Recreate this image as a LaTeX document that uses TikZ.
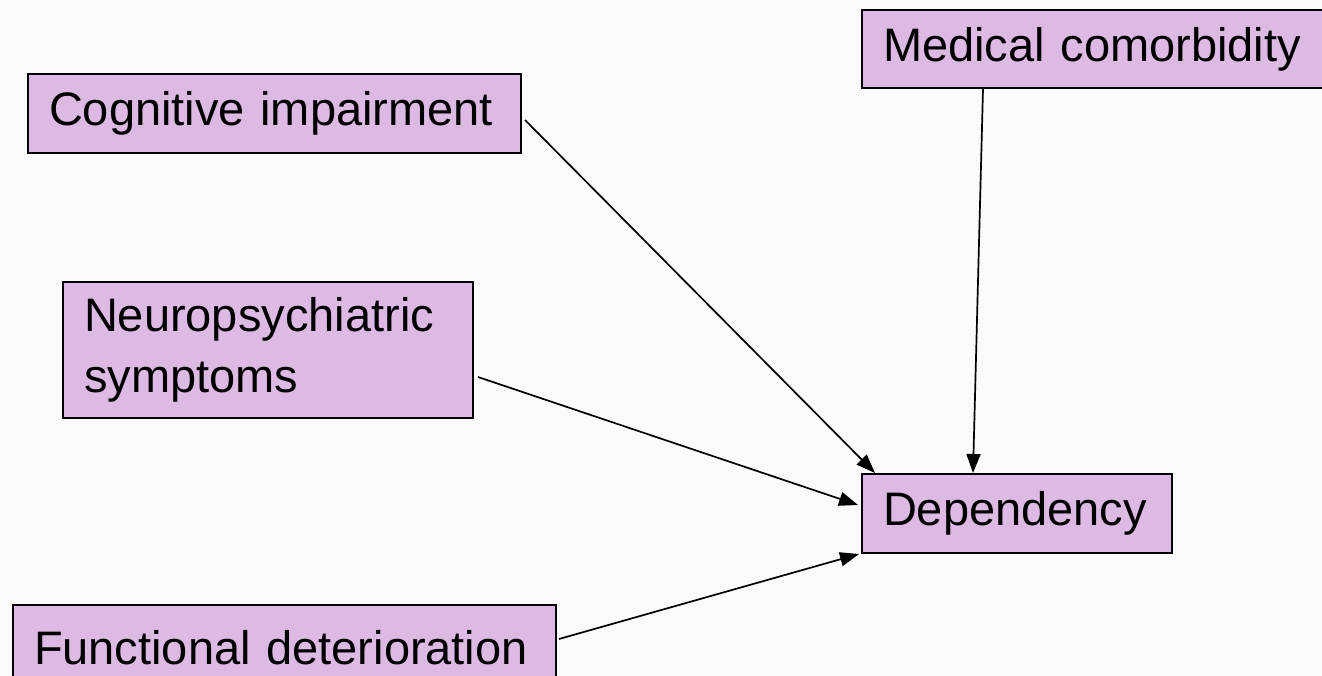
\documentclass[tikz,border=0pt]{standalone}
\usepackage{fontspec}
\setmainfont{Liberation Sans}
\usetikzlibrary{arrows.meta,calc}
\definecolor{boxfill}{RGB}{221,186,227}
\definecolor{paper}{RGB}{250,250,250}
\tikzset{
  factor/.style={draw=black, line width=2pt, fill=boxfill, anchor=north west,
    align=left, inner xsep=21pt, inner ysep=0pt,
    font=\fontsize{47}{61}\selectfont},
  link/.style={draw=black, line width=1.7pt,
    -{Triangle[length=19pt,width=14pt]}}
}
\begin{document}
\hyphenpenalty=10000
\begin{tikzpicture}[x=1pt,y=-1pt]
  \fill[paper] (0,0) rectangle (1322,676);
  \useasboundingbox (0,0) rectangle (1322,676);
  \clip (0,0) rectangle (1322,676);

  % factors
  \node[factor, text width=451pt, minimum height=79pt] (cog) at (27,73) {Cognitive impairment};
  \node[factor, text width=420pt, minimum height=78pt] (med) at (861,9) {Medical comorbidity};
  \node[factor, text width=368pt, minimum height=136pt] (neuro) at (62,281) {Neuropsychiatric\\symptoms};
  \node[factor, text width=268pt, minimum height=79pt] (dep) at (861,473) {Dependency};
  \node[factor, text width=501pt, minimum height=86pt] (func) at (12,604) {Functional deterioration};

  % influences on dependency
  \draw[link] ($(cog.north east)+(3,47)$) -- ($(dep.north west)+(14,0)$);
  \draw[link] ($(med.south west)+(122,0)$) -- ($(dep.north west)+(112,0)$);
  \draw[link] ($(neuro.north east)+(4,96)$) -- ($(dep.north west)+(-3,32)$);
  \draw[link] ($(func.north east)+(2,35)$) -- ($(dep.south west)+(-2,0)$);
\end{tikzpicture}
\end{document}
